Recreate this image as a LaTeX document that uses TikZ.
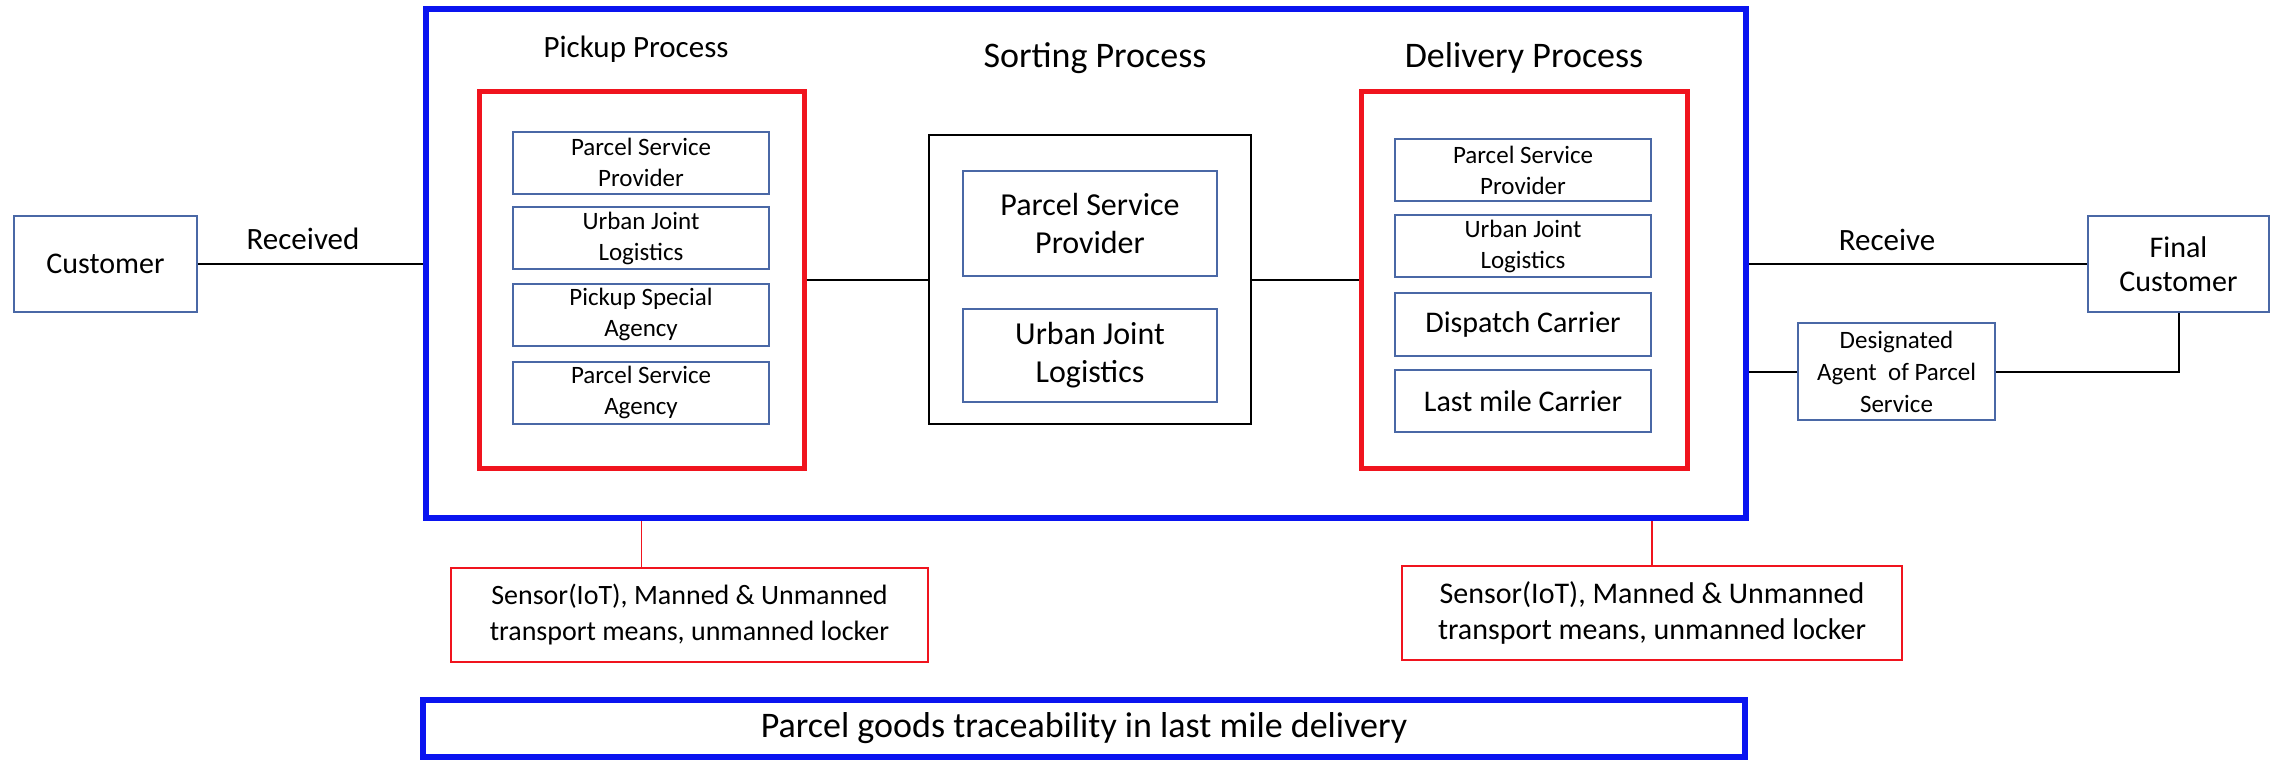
\documentclass[tikz,border=0pt]{standalone}
\usepackage{fontspec}
\setmainfont{Carlito}
\definecolor{inblue}{HTML}{4A68A6}
\definecolor{bigblue}{HTML}{0A14F0}
\definecolor{bigred}{HTML}{F0141E}
\tikzset{
  lbl/.style={inner sep=0pt, align=center},
  inbox/.style={draw=inblue, line width=2pt, inner sep=0pt, align=center},
  outerblue/.style={draw=bigblue, line width=6pt, inner sep=0pt},
  outerred/.style={draw=bigred, line width=5pt, inner sep=0pt},
  blackbox/.style={draw=black, line width=2pt, inner sep=0pt},
  sensorbox/.style={draw=bigred, line width=2pt, inner sep=0pt, align=center},
  conn/.style={draw=black, line width=2pt},
  redconn/.style={draw=bigred, line width=1.5pt},
  fa/.style={font=\fontsize{25}{31}\selectfont},
  fb/.style={font=\fontsize{30}{34}\selectfont},
  fc/.style={font=\fontsize{32}{38}\selectfont},
  fd/.style={font=\fontsize{36}{40}\selectfont},
}
\begin{document}
\begin{tikzpicture}[x=1pt,y=-1pt]
\useasboundingbox (0,0) rectangle (2270,760);
% big containers
\node (outer) [outerblue, minimum width=1320pt, minimum height=509pt] at (1086,263.5) {};
\node (redP) [outerred, minimum width=325pt, minimum height=377pt] at (641.5,279.5) {};
\node (sort) [blackbox, minimum width=322pt, minimum height=289pt] at (1090,279.5) {};
\node (redD) [outerred, minimum width=326pt, minimum height=377pt] at (1524,279.5) {};
% titles
\node (tP) [lbl, font=\fontsize{31}{36}\selectfont] at (636,49) {Pickup Process};
\node (tS) [lbl, fd] at (1095,58) {Sorting Process};
\node (tD) [lbl, fd] at (1524,58) {Delivery Process};
% pickup inner
\node (p1) [inbox, fa, minimum width=256pt, minimum height=62pt] at (641,162.5) {Parcel Service\\Provider};
\node (p2) [inbox, fa, minimum width=256pt, minimum height=62pt] at (641,238) {Urban Joint\\Logistics};
\node (p3) [inbox, fa, minimum width=256pt, minimum height=62pt] at (641,314.5) {Pickup Special\\Agency};
\node (p4) [inbox, fa, minimum width=256pt, minimum height=62pt] at (641,392.5) {Parcel Service\\Agency};
% sorting inner
\node (s1) [inbox, fc, minimum width=254pt, minimum height=105pt] at (1090,223.5) {Parcel Service\\Provider};
\node (s2) [inbox, fc, minimum width=254pt, minimum height=93pt] at (1090,355.5) {Urban Joint\\Logistics};
% delivery inner
\node (d1) [inbox, fa, minimum width=256pt, minimum height=62pt] at (1523,170) {Parcel Service\\Provider};
\node (d2) [inbox, fa, minimum width=256pt, minimum height=62pt] at (1523,246) {Urban Joint\\Logistics};
\node (d3) [inbox, fb, minimum width=256pt, minimum height=63pt] at (1523,324.5) {Dispatch Carrier};
\node (d4) [inbox, fb, minimum width=256pt, minimum height=62pt] at (1523,401) {Last mile Carrier};
% outside nodes
\node (cust) [inbox, fb, minimum width=183pt, minimum height=96pt] at (105.5,264) {Customer};
\node (fin) [inbox, fb, minimum width=181pt, minimum height=96pt] at (2178.5,264) {Final\\Customer};
\node (desig) [inbox, font=\fontsize{25}{32}\selectfont, minimum width=197pt, minimum height=97pt] at (1896.5,371.5) {Designated\\Agent\ \ of Parcel\\Service};
\node (rcvd) [lbl, font=\fontsize{31}{36}\selectfont] at (303,239) {Received};
\node (rcv) [lbl, font=\fontsize{31}{36}\selectfont] at (1887,240) {Receive};
% sensor boxes
\node (sen1) [sensorbox, font=\fontsize{28}{36}\selectfont, minimum width=477pt, minimum height=94pt] at (689.5,615) {Sensor(IoT), Manned \& Unmanned\\transport means, unmanned locker};
\node (sen2) [sensorbox, font=\fontsize{30}{36}\selectfont, minimum width=500pt, minimum height=94pt] at (1652,613) {Sensor(IoT), Manned \& Unmanned\\transport means, unmanned locker};
% bottom banner
\node (banner) [outerblue, fd, minimum width=1322pt, minimum height=57pt] at (1084,728.5) {Parcel goods traceability in last mile delivery};
% connectors
\draw[conn] (cust.east) -- (cust.east -| outer.west);
\draw[conn] (redP.east) -- (sort.west);
\draw[conn] (sort.east) -- (redD.west);
\draw[conn] (fin.west) -- (fin.west -| outer.east);
\draw[conn] (desig.west) -- (desig.west -| outer.east);
\draw[conn] (desig.east) -| (fin.south);
\draw[redconn] (redP.south |- outer.south) -- (redP.south |- sen1.north);
\draw[redconn] (sen2.north |- outer.south) -- (sen2.north);
\end{tikzpicture}
\end{document}
